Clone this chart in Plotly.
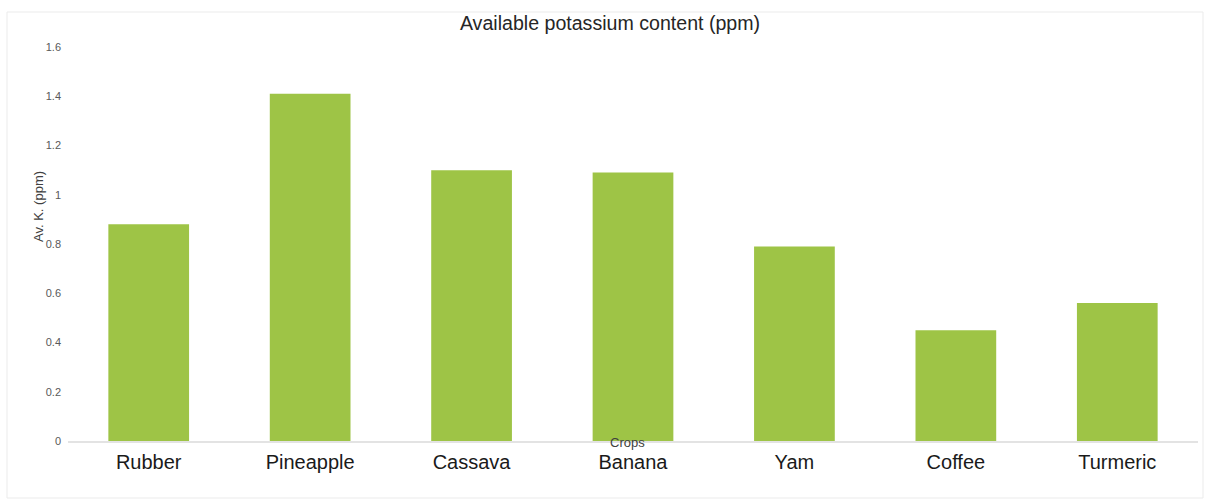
import plotly.graph_objects as go

crops = ["Rubber", "Pineapple", "Cassava", "Banana", "Yam", "Coffee", "Turmeric"]
av_k = [0.88, 1.41, 1.10, 1.09, 0.79, 0.45, 0.56]
y_ticks = [0, 0.2, 0.4, 0.6, 0.8, 1.0, 1.2, 1.4, 1.6]
y_tick_text = ["0", "0.2", "0.4", "0.6", "0.8", "1", "1.2", "1.4", "1.6"]

W, H = 1205, 499
L, R, T, B = 68, 7, 47, 58
pw, ph = W - L - R, H - T - B

def px(x):
    return (x - L) / pw

def py(y):
    return (H - B - y) / ph

fig = go.Figure(go.Bar(x=crops, y=av_k, marker=dict(color="#9EC446", line=dict(width=0)),
                       width=0.5))

fig.update_layout(
    width=W, height=H,
    margin=dict(l=L, r=R, t=T, b=B),
    paper_bgcolor="white", plot_bgcolor="white",
    font=dict(family="Liberation Sans, Arial, sans-serif"),
    showlegend=False,
    title=dict(text="Available potassium content (ppm)", xref="container", x=610 / W,
               xanchor="center", y=1 - 23 / H, yanchor="middle",
               font=dict(size=19.6, color="#262626")),
    xaxis=dict(showgrid=False, showline=True, linecolor="#e3e3e3", linewidth=2,
               ticks="", tickfont=dict(size=20, color="#1a1a1a"), ticklabelstandoff=2),
    yaxis=dict(range=[0, 1.6], tickvals=y_ticks, ticktext=y_tick_text, showgrid=False,
               zeroline=False, showline=False, ticks="",
               tickfont=dict(size=11, color="#595959"), ticklabelstandoff=6),
    shapes=[dict(type="rect", xref="paper", yref="paper", x0=px(7), x1=px(1203),
                 y0=py(498), y1=py(12), line=dict(color="#ebebeb", width=1), layer="below")],
    annotations=[
        dict(text="Av. K. (ppm)", textangle=-90, xref="paper", yref="paper",
             x=px(38), y=py(207), showarrow=False, font=dict(size=13, color="#404040"),
             xanchor="center", yanchor="middle"),
        dict(text="Crops", xref="paper", yref="paper", x=px(627), y=py(443),
             showarrow=False, font=dict(size=13, color="#404040"),
             xanchor="center", yanchor="middle"),
    ],
)

fig.write_html("out.html")
